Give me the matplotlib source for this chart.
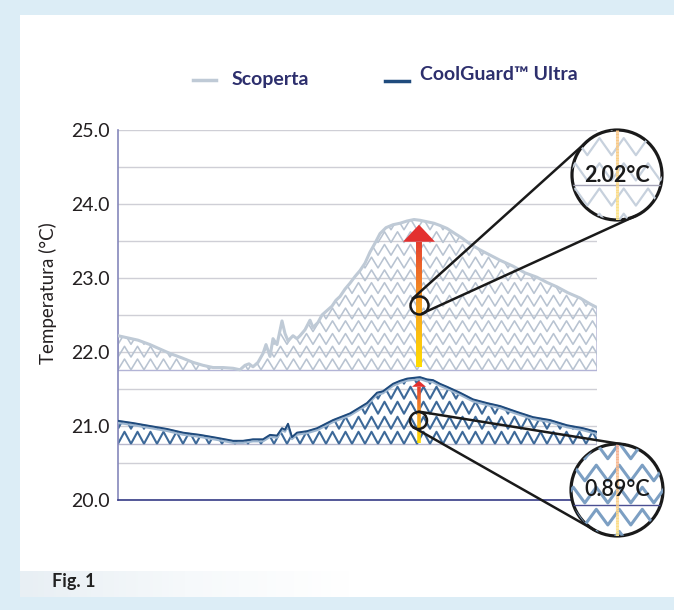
"""
Fig. 1 - Temperatura: Scoperta vs CoolGuard(TM) Ultra
Two temperature traces with zigzag-hatched fills, rise arrows and
magnifier call-outs showing the peak increase of each trace.
"""

import numpy as np
import matplotlib
matplotlib.use('Agg')
import matplotlib.pyplot as plt
from matplotlib.collections import LineCollection
from matplotlib.colors import LinearSegmentedColormap
from matplotlib.lines import Line2D
from matplotlib.patches import Circle, Polygon, Rectangle
from matplotlib.transforms import IdentityTransform, offset_copy

plt.rcParams['font.family'] = ['Lato', 'DejaVu Sans']

# ---- data (time axis is an unlabelled sample index) ----
scoperta_t = [0, 10, 20, 32, 42, 52, 64, 75, 85, 95, 105, 115, 122, 127, 131, 135,
              140, 145, 148, 152, 155, 159, 164, 167, 170, 175, 179, 182, 187, 192,
              195, 200, 204, 209, 214, 218, 222, 227, 232, 237, 242, 247, 252, 257,
              262, 268, 275, 282, 289, 296, 302, 309, 316, 322, 329, 337, 344, 352,
              362, 372, 382, 395, 407, 419, 429, 439, 450, 462, 472, 479]
scoperta_temp = [22.22, 22.19, 22.16, 22.10, 22.04, 21.98, 21.92, 21.86, 21.82, 21.79,
                 21.79, 21.78, 21.76, 21.82, 21.84, 21.80, 21.86, 21.98, 22.10, 21.94,
                 22.18, 22.10, 22.42, 22.25, 22.15, 22.22, 22.18, 22.22, 22.30, 22.43,
                 22.33, 22.40, 22.50, 22.56, 22.62, 22.70, 22.75, 22.85, 22.93, 23.02,
                 23.10, 23.20, 23.35, 23.47, 23.60, 23.68, 23.72, 23.74, 23.77, 23.79,
                 23.78, 23.76, 23.74, 23.71, 23.67, 23.60, 23.54, 23.46, 23.38, 23.31,
                 23.24, 23.16, 23.07, 23.01, 22.94, 22.88, 22.80, 22.73, 22.65, 22.60]

coolguard_t = [0, 15, 32, 49, 65, 82, 99, 115, 125, 135, 145, 152, 159, 164, 167, 170,
               174, 179, 189, 199, 215, 232, 249, 259, 265, 275, 282, 289, 295, 302,
               309, 315, 322, 329, 342, 355, 369, 382, 399, 415, 432, 449, 465, 479]
coolguard_temp = [21.07, 21.04, 21.00, 20.96, 20.91, 20.88, 20.84, 20.80, 20.80, 20.82,
                  20.82, 20.88, 20.87, 20.97, 20.95, 21.03, 20.85, 20.91, 20.93, 20.97,
                  21.08, 21.17, 21.31, 21.45, 21.47, 21.57, 21.61, 21.64, 21.65, 21.66,
                  21.63, 21.62, 21.57, 21.53, 21.45, 21.36, 21.31, 21.27, 21.19, 21.12,
                  21.08, 21.01, 20.97, 20.92]

series_labels = ['Scoperta', 'CoolGuard\u2122 Ultra']
fill_bases = [21.75, 20.75]
delta_labels = ['2.02\u00b0C', '0.89\u00b0C']
ytick_values = [20.0, 21.0, 22.0, 23.0, 24.0, 25.0]
ytick_labels = ['20.0', '21.0', '22.0', '23.0', '24.0', '25.0']

W, H = 674, 610
TXT = '#231f20'
LEG = '#2d2f6d'
LIGHT = '#bfcad6'
NAVY = '#1f4b7d'


def fx(px):
    return px / W


def fy(py):
    return 1 - py / H


def zigzag(ax, x0, x1, y0, y1, period, row, amp, **kw):
    # stacked zigzag rows used as a hatch texture
    xs = np.arange(x0, x1 + period, period / 2)
    segs = []
    for yb in np.arange(y0, y1, row):
        ys = np.where(np.arange(len(xs)) % 2 == 0, yb, yb + amp)
        segs.append(np.column_stack([xs, ys]))
    lc = LineCollection(segs, **kw)
    ax.add_collection(lc)
    return lc


def gradient_line(ax, x, y0, y1, colors, lw):
    ys = np.linspace(y0, y1, 60)
    segs = [[(x, ys[i]), (x, ys[i + 1])] for i in range(len(ys) - 1)]
    cmap = LinearSegmentedColormap.from_list('g', colors)
    lc = LineCollection(segs, colors=cmap(np.linspace(0, 1, len(segs))),
                        linewidths=lw, capstyle='butt')
    ax.add_collection(lc)
    return lc


def tangents(c1, r1, c2, r2):
    c1, c2 = np.asarray(c1, float), np.asarray(c2, float)
    d = c2 - c1
    dist = np.hypot(*d)
    u = d / dist
    p = np.array([-u[1], u[0]])
    k = -(r2 - r1) / dist
    out = []
    for s in (1, -1):
        n = k * u + s * np.sqrt(1 - k * k) * p
        out.append((c1 + r1 * n, c2 + r2 * n))
    return out


def magnifier(fig, cx, cy, r, label, zz_color, zz_lw, zz_size, vcolors, hline_y, hline_color, weight):
    mx = fig.add_axes([fx(cx - r), fy(cy + r), 2 * r / W, 2 * r / H])
    mx.set_xlim(0, 1)
    mx.set_ylim(0, 1)
    mx.axis('off')
    mx.add_patch(Circle((0.5, 0.5), 0.5, transform=mx.transAxes,
                        facecolor='white', edgecolor='none'))
    clip = Circle((0.5, 0.5), 0.5, transform=mx.transAxes)
    period, row, amp = zz_size
    lc = zigzag(mx, -0.1, 1.1, -0.12, 1.1, period, row, amp, colors=zz_color, linewidths=zz_lw)
    lc.set_clip_path(clip)
    hl = mx.axhline(hline_y, color=hline_color, lw=1.0)
    hl.set_clip_path(clip)
    vl = gradient_line(mx, 0.5, 1.0, 0.0, vcolors, 2.2)
    vl.set_clip_path(clip)
    mx.text(0.5, 0.5, label, ha='center', va='center', fontsize=15.5,
            fontweight=weight, color='#1a1a1a')
    mx.add_patch(Circle((0.5, 0.5), 0.5, transform=mx.transAxes, fill=False,
                        edgecolor='#1a1a1a', lw=2.3, clip_on=False))
    return mx


fig = plt.figure(figsize=(W / 100, H / 100), dpi=100, facecolor='#dcedf6')

# white panel and soft band behind the caption
fig.add_artist(Rectangle((fx(20), fy(597)), 654 / W, 582 / H, transform=fig.transFigure,
                         facecolor='white', edgecolor='none', zorder=-2))
band = fig.add_axes([fx(20), fy(597), 330 / W, 26 / H])
band.imshow(np.linspace(0, 1, 200)[None, :], aspect='auto',
            cmap=LinearSegmentedColormap.from_list('b', ['#e8eff4', '#f6f9fb', '#ffffff']))
band.axis('off')
band.set_zorder(-1)

ax = fig.add_axes([fx(118), fy(500), 479 / W, 370 / H])
ax.set_facecolor('none')
ax.set_xlim(0, 479)
ax.set_ylim(20, 25)

ax.set_yticks(ytick_values)
ax.set_yticklabels(ytick_labels)
ax.set_yticks(np.arange(20.5, 25, 1.0), minor=True)
ax.set_xticks([])
ax.tick_params(axis='y', which='both', length=0, pad=6, labelsize=14, labelcolor=TXT)
ax.grid(True, axis='y', which='both', color='#cfcfd6', lw=1.0)
ax.set_axisbelow(True)
for s in ('top', 'right'):
    ax.spines[s].set_visible(False)
ax.spines['left'].set_color('#8587bb')
ax.spines['left'].set_linewidth(1.2)
ax.spines['bottom'].set_color('#363b86')
ax.spines['bottom'].set_linewidth(1.2)

# Scoperta: light trace with pale zigzag fill
f1 = ax.fill_between(scoperta_t, fill_bases[0], scoperta_temp, facecolor='none',
                     edgecolor='#b3b4d6', lw=1.0, zorder=2)
z1 = zigzag(ax, 0, 479, fill_bases[0] + 0.01, 24.0, 13, 0.172, 0.145,
            colors='#b8c3d1', linewidths=1.15, zorder=2)
z1.set_clip_path(f1.get_paths()[0], ax.transData)
ax.plot(scoperta_t, scoperta_temp, color=LIGHT, lw=2.2, zorder=3)

# CoolGuard: navy trace with blue zigzag fill
f2 = ax.fill_between(coolguard_t, fill_bases[1], coolguard_temp, facecolor='none',
                     edgecolor='#b8b8cc', lw=1.0, zorder=2)
z2 = zigzag(ax, 0, 479, fill_bases[1] + 0.01, 22.0, 13, 0.203, 0.162,
            colors='#3d6999', linewidths=1.5, zorder=2)
z2.set_clip_path(f2.get_paths()[0], ax.transData)
ax.plot(coolguard_t, coolguard_temp, color='#9db6d0', lw=1.6, zorder=3,
        transform=offset_copy(ax.transData, fig=fig, y=-2, units='dots'))
ax.plot(coolguard_t, coolguard_temp, color=NAVY, lw=1.4, zorder=4)

# rise arrows at the peak
arrow_x = 301
arrow_specs = [  # (bottom, head base, tip, half width of head, shaft lw)
    (21.80, 23.49, 23.72, 16, 4.3),
    (20.77, 21.53, 21.61, 7, 2.6),
]
for bottom, hb, tip, hw, lw in arrow_specs:
    gradient_line(ax, arrow_x, bottom, hb, ['#ffdc00', '#f6a020', '#e5402e'], lw).set_zorder(5)
    ax.add_patch(Polygon([(arrow_x - hw, hb), (arrow_x + hw, hb), (arrow_x, tip)],
                         closed=True, facecolor='#e3302f', edgecolor='none', zorder=6))

# small circles on the arrows
small = [(301, 22.635, 9.0), (300, 21.08, 8.5)]
for x, y, r in small:
    ax.plot(x, y, 'o', mfc='none', mec='#1a1a1a', mew=1.8, ms=2 * r * 0.72, zorder=7)

# magnifier call-outs (figure pixel positions, origin top-left)
big = [(617, 175, 45), (617, 490, 46)]
magnifier(fig, 617, 175, 45, delta_labels[0], '#c7d1dd', 1.6, (0.27, 0.28, 0.19),
          ['#f8c587', '#fde68a'], 0.389, '#a5a5b8', 'bold')
magnifier(fig, 617, 490, 46, delta_labels[1], '#7c9fc3', 2.2, (0.25, 0.24, 0.17),
          ['#f5ae94', '#fde488'], 0.337, '#4b4f93', 'semibold')

for (x, y, r), (bx, by, br) in zip(small, big):
    c1 = ax.transData.transform((x, y))
    c2 = (bx, H - by)
    for p1, p2 in tangents(c1, r, c2, br):
        fig.add_artist(Line2D([p1[0], p2[0]], [p1[1], p2[1]], transform=IdentityTransform(),
                              color='#1a1a1a', lw=1.8, zorder=3))

# legend
fig.add_artist(Line2D([fx(193), fx(216)], [fy(80), fy(80)], color=LIGHT, lw=2.5))
fig.text(fx(232), fy(79), series_labels[0], ha='left', va='center', fontsize=14,
         fontweight='bold', color=LEG)
fig.add_artist(Line2D([fx(385), fx(409)], [fy(81), fy(81)], color=NAVY, lw=2.5))
fig.text(fx(420), fy(74), series_labels[1], ha='left', va='center', fontsize=14,
         fontweight='bold', color=LEG)

fig.text(fx(48), fy(293), 'Temperatura (\u00b0C)', rotation=90, ha='center', va='center',
         fontsize=13.5, color=TXT)
fig.text(fx(52), fy(581), 'Fig. 1', ha='left', va='center', fontsize=13,
         fontweight='bold', color='#222222')

fig.savefig('out.png', dpi=100, facecolor=fig.get_facecolor())
